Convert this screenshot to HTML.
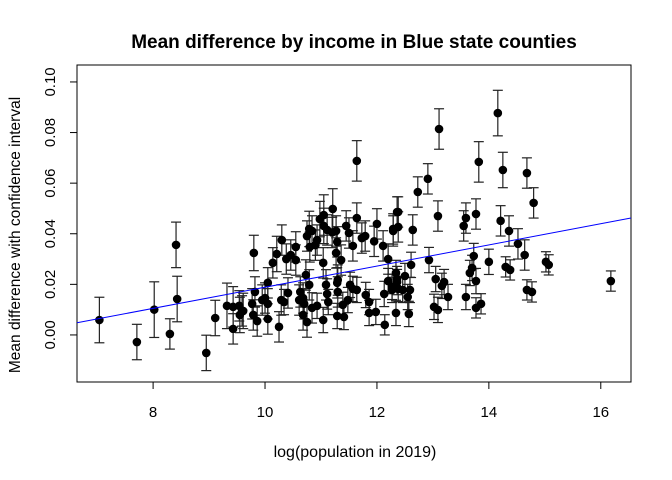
<!DOCTYPE html>
<html><head><meta charset="utf-8">
<style>
html,body{margin:0;padding:0;background:#fff;}
svg{display:block;font-family:"Liberation Sans",Arial,sans-serif;}
</style></head>
<body>
<svg id="chart" width="672" height="480" viewBox="0 0 672 480" xmlns="http://www.w3.org/2000/svg">
<text x="354" y="48" text-anchor="middle" font-size="19" font-weight="bold">Mean difference by income in Blue state counties</text>
<text x="355" y="457" text-anchor="middle" font-size="16">log(population in 2019)</text>
<text transform="translate(20,235) rotate(-90)" text-anchor="middle" font-size="15.5">Mean difference with confidence interval</text>
<rect x="77" y="65" width="554" height="317" fill="none" stroke="#000" stroke-width="1"/>
<g id="axes"></g>
<g id="bars"></g>
<g id="pts"></g>
<g id="fit"></g>
</svg>
<script>
const xs=[7.04,7.71,8.02,8.3,8.41,8.43,8.95,9.11,9.32,9.43,9.43,9.55,9.61,
9.8,10.21,10.14,10.38,10.46,10.55,11.21,11.05,10.98,10.79,10.8,10.84,10.93,11.05,11.11,11.27,11.29,11.27,11.36,11.45,11.5,11.57,11.64,11.73,11.79,12,12.11,12.2,12.29,12.36,11.64,11.04,10.73,10.79,10.63,10.05,9.82,9.54,9.59,9.77,9.79,9.86,9.95,10,10.05,10.05,10.25,10.29,10.34,10.41,10.61,10.68,10.7,10.68,10.75,10.84,10.93,11.04,11.09,11.11,11.13,11.29,11.3,11.3,11.39,11.29,11.41,11.48,11.52,11.57,11.64,11.8,11.86,11.86,11.98,12.13,12.14,12.2,12.27,12.34,12.36,
13.11,14.16,13.82,14.25,14.68,14.8,12.91,12.73,12.38,12.38,12.29,12.64,13.09,13.59,13.55,13.77,14.21,14.36,14.52,14.64,14.0,13.73,13.7,13.66,13.77,12.93,12.61,13.05,13.2,13.16,13.27,13.59,13.77,13.86,13.02,13.09,12.57,12.34,12.5,12.36,12.38,12.27,12.46,12.59,12.55,14.3,14.38,14.68,14.77,15.02,15.07,16.18,10.75,10.55,10.3,10.9,11.2,11.95];
const ys=[0.0059,-0.0028,0.01,0.0004,0.0356,0.0142,-0.0071,0.0067,0.0115,0.0111,0.0024,0.0079,0.0095,
0.0324,0.032,0.0285,0.03,0.0316,0.0296,0.0498,0.0474,0.0458,0.0419,0.0348,0.0411,0.0375,0.0431,0.0415,0.0411,0.0368,0.0324,0.0296,0.0431,0.0403,0.0352,0.0462,0.0383,0.0391,0.0439,0.0352,0.03,0.0419,0.0486,0.0688,0.0285,0.0237,0.0198,0.017,0.0206,0.017,0.0115,0.0095,0.0123,0.0079,0.0055,0.0138,0.0146,0.0123,0.0063,0.0032,0.0138,0.013,0.0166,0.0138,0.0146,0.0123,0.0079,0.0051,0.0107,0.0115,0.0059,0.0198,0.0162,0.013,0.0206,0.017,0.0217,0.0119,0.0075,0.0071,0.0138,0.0198,0.0182,0.0178,0.0158,0.013,0.0087,0.0091,0.0162,0.004,0.0213,0.019,0.0087,0.0209,
0.0814,0.0877,0.0684,0.0652,0.064,0.0522,0.0617,0.0565,0.0486,0.0427,0.0411,0.0415,0.047,0.0462,0.0431,0.0478,0.0451,0.0411,0.036,0.0316,0.0289,0.0312,0.0265,0.0245,0.0213,0.0296,0.0277,0.0221,0.0209,0.0194,0.015,0.015,0.0107,0.0123,0.0111,0.0099,0.0083,0.0245,0.0233,0.0221,0.0182,0.0178,0.0178,0.0178,0.015,0.0269,0.0257,0.0178,0.017,0.0289,0.0277,0.0213,0.0391,0.0348,0.0375,0.0355,0.0405,0.037];
const cis=[0.009,0.007,0.011,0.006,0.009,0.009,0.007,0.007,0.009,0.008,0.006,0.007,0.007,
0.007,0.007,0.006,0.006,0.006,0.006,0.008,0.008,0.007,0.007,0.006,0.006,0.006,0.007,0.006,0.006,0.006,0.006,0.006,0.006,0.006,0.006,0.006,0.006,0.006,0.006,0.006,0.006,0.006,0.006,0.008,0.006,0.006,0.006,0.006,0.006,0.006,0.006,0.006,0.006,0.006,0.006,0.006,0.006,0.006,0.006,0.006,0.006,0.005,0.006,0.006,0.006,0.006,0.006,0.006,0.006,0.005,0.005,0.006,0.006,0.005,0.006,0.006,0.006,0.005,0.005,0.005,0.005,0.005,0.005,0.005,0.005,0.005,0.005,0.005,0.005,0.004,0.005,0.005,0.005,0.005,
0.008,0.009,0.008,0.007,0.006,0.006,0.006,0.006,0.006,0.006,0.006,0.006,0.006,0.006,0.006,0.006,0.006,0.006,0.006,0.006,0.005,0.005,0.005,0.005,0.005,0.005,0.005,0.005,0.005,0.005,0.005,0.005,0.004,0.004,0.005,0.005,0.005,0.005,0.005,0.005,0.005,0.005,0.005,0.005,0.005,0.004,0.004,0.004,0.004,0.004,0.004,0.004,0.006,0.006,0.006,0.006,0.006,0.006];
const xTicks=[8,10,12,14,16];
const yTicks=[0,0.02,0.04,0.06,0.08,0.10];
const yTickLabels=["0.00","0.02","0.04","0.06","0.08","0.10"];

const X0=77,X1=631,Y0=382,Y1=65,xmin=6.64,xmax=16.54,ymin=-0.0186,ymax=0.1067;
const sx=v=>X0+(v-xmin)/(xmax-xmin)*(X1-X0);
const sy=v=>Y0-(v-ymin)/(ymax-ymin)*(Y0-Y1);
const NS="http://www.w3.org/2000/svg";
function mk(tag,attrs,parent){const e=document.createElementNS(NS,tag);for(const k in attrs)e.setAttribute(k,attrs[k]);parent.appendChild(e);return e;}
const axes=document.getElementById('axes');
xTicks.forEach(t=>{
  const l=mk('line',{x1:sx(t),x2:sx(t),y1:Y0,y2:Y0+7,stroke:'#000'},axes);
  
  
  const tx=mk('text',{x:sx(t),y:Y0+35,'text-anchor':'middle','font-size':15},axes);
  tx.textContent=t;
  
  
});
const xl=mk('line',{x1:sx(xTicks[0]),x2:sx(xTicks[xTicks.length-1]),y1:Y0,y2:Y0,stroke:'#000'},axes);


yTicks.forEach((t,i)=>{
  const l=mk('line',{x1:X0-7,x2:X0,y1:sy(t),y2:sy(t),stroke:'#000'},axes);
  
  
  const tx=mk('text',{transform:`translate(${X0-22},${sy(t)}) rotate(-90)`,'text-anchor':'middle','font-size':15},axes);
  tx.textContent=yTickLabels[i];
  
  
});
const bars=document.getElementById('bars'),pts=document.getElementById('pts');
xs.forEach((x,i)=>{
  const cx=sx(x),lo=sy(ys[i]-cis[i]),hi=sy(ys[i]+cis[i]);
  const g=mk('g',{stroke:'#222','stroke-width':1.2},bars);
  
  
  mk('line',{x1:cx,x2:cx,y1:lo,y2:hi},g);
  mk('line',{x1:cx-5,x2:cx+5,y1:lo,y2:lo},g);
  mk('line',{x1:cx-5,x2:cx+5,y1:hi,y2:hi},g);
  const c=mk('circle',{cx:cx,cy:sy(ys[i]),r:4.3,fill:'#000'},pts);
  
  
});
// least-squares fit line
const n=xs.length,mx=xs.reduce((a,b)=>a+b)/n,my=ys.reduce((a,b)=>a+b)/n;
let sxy=0,sxx=0;xs.forEach((x,i)=>{sxy+=(x-mx)*(ys[i]-my);sxx+=(x-mx)*(x-mx);});
const b=sxy/sxx,a=my-b*mx;
const fl=mk('line',{x1:X0,y1:sy(a+b*xmin),x2:X1,y2:sy(a+b*xmax),stroke:'#0000ff','stroke-width':1},document.getElementById('fit'));


</script>
</body></html>
